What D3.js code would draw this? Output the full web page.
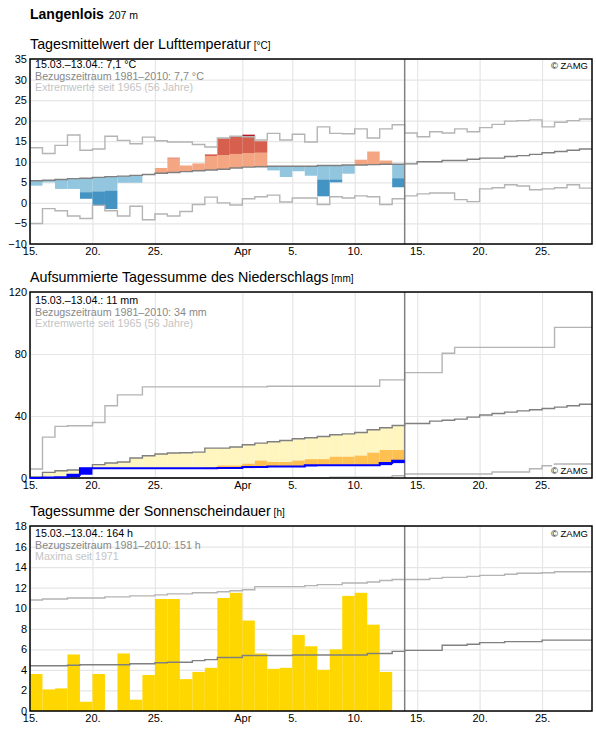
<!DOCTYPE html>
<html>
<head>
<meta charset="utf-8">
<script src="https://cdn.jsdelivr.net/npm/d3@7"></script>
<style>
  body { margin: 0; background: #fff; }
  svg { font-family: "Liberation Sans", Arial, sans-serif; }
</style>
</head>
<body>
<svg id="chart" width="596" height="729"></svg>
<script>
// ---- data (one value per day, starting 15.03.) ----
const station = 'Langenlois'
const altitude = '207 m'
const tickDates = ['2021-03-15', '2021-03-20', '2021-03-25', '2021-04-01', '2021-04-05', '2021-04-10', '2021-04-15', '2021-04-20', '2021-04-25']
const tickLabels = ['15.', '20.', '25.', 'Apr', '5.', '10.', '15.', '20.', '25.']

const tempTicks = [-10, -5, 0, 5, 10, 15, 20, 25, 30, 35]
const tempObs = [4.2, 5.0, 3.4, 3.4, 1.0, -0.5, -1.5, 4.9, 4.9, 7.0, 8.5, 11.0, 9.1, 9.6, 11.8, 15.7, 16.1, 16.6, 15.0, 7.9,
  6.3, 7.7, 6.6, 1.6, 5.0, 7.1, 10.5, 12.5, 10.3, 3.8]
const tempMean = [5.4, 5.5, 5.7, 5.9, 6.0, 6.2, 6.4, 6.5, 6.7, 6.9, 7.2, 7.4, 7.6, 7.8, 8.0, 8.2, 8.5, 8.7, 8.8, 8.9,
  8.9, 8.9, 8.9, 9.1, 9.1, 9.2, 9.2, 9.3, 9.4, 9.4, 9.5, 10.0, 10.0, 10.3, 10.3, 10.6, 10.9, 10.9, 11.3, 11.5,
  11.8, 12.2, 12.5, 12.8, 13.1]
const tempUpper = [13.4, 12.0, 14.0, 16.5, 12.8, 13.1, 16.2, 15.2, 14.4, 16.0, 15.1, 14.8, 14.8, 14.2, 13.6, 15.8, 16.2, 16.1, 15.3, 16.9,
  15.3, 16.7, 14.8, 18.5, 16.9, 16.8, 18.0, 15.8, 18.0, 19.0, 17.0, 16.1, 17.3, 17.0, 18.0, 17.3, 18.3, 19.1, 19.9, 20.0,
  20.2, 18.5, 19.6, 20.0, 20.4]
const tempLower = [-5.0, -1.4, -1.9, -3.2, -3.8, -0.6, -1.9, -3.2, -0.8, -4.1, -2.7, -3.2, -2.1, -0.4, 1.4, 0.0, -0.5, 1.0, 1.5, 1.9,
  0.2, 1.2, 1.2, -0.4, 1.5, 1.2, 1.7, 1.5, -0.4, 1.0, 1.7, 2.2, 2.4, 2.4, 0.8, 0.3, 3.4, 3.7, 4.4, 4.1,
  3.2, 3.4, 3.7, 4.4, 3.6]

const precipTicks = [0, 40, 80, 120]
const precipObs = [0, 0.3, 0.5, 2.1, 6.3, 6.3, 6.3, 6.3, 6.3, 6.3, 6.3, 6.3, 6.3, 6.3, 6.3, 6.4, 6.4, 7.1, 7.1, 7.5,
  7.5, 7.5, 8.3, 8.3, 8.3, 8.3, 8.3, 8.3, 9.6, 11.2]
const precipBand = [0, 0, 0, 0, 0, 3.0, 3.5, 4.0, 4.5, 5.0, 5.3, 5.6, 5.8, 6.0, 7.0, 8.2, 8.2, 9.4, 11.4, 10.5,
  10.5, 11.4, 12.2, 12.2, 13.9, 13.9, 14.6, 16.5, 18.2, 18.2]
const precipMean = [0.6, 3.6, 4.7, 5.2, 6.2, 8.6, 9.7, 10.3, 12.9, 14.4, 15.5, 16.1, 16.3, 16.7, 19.3, 19.3, 20.0, 21.5, 22.5, 23.4,
  24.2, 25.3, 26.0, 26.8, 27.9, 28.5, 29.4, 31.1, 32.4, 33.9, 35.2, 35.2, 36.7, 37.3, 38.0, 39.3, 40.6, 41.6, 42.5, 43.3,
  44.0, 44.8, 45.7, 46.6, 47.6]
const precipUpper = [5.8, 26.4, 33.3, 33.7, 33.7, 35.8, 46.6, 53.6, 53.6, 58.8, 58.8, 58.8, 58.8, 58.8, 58.8, 58.8, 58.8, 58.8, 58.8, 59.2,
  59.2, 59.2, 59.2, 59.2, 59.2, 59.2, 59.2, 59.2, 63.3, 63.3, 68.0, 68.0, 68.0, 80.5, 84.3, 84.3, 84.3, 84.3, 84.3, 84.3,
  84.3, 84.3, 97.2, 97.2, 97.2]
const precipLower = [0, 0, 0, 0, 0, 0, 0, 0, 0, 0, 0, 0, 0, 0, 0, 0, 0, 0, 0, 0,
  0, 0, 0, 0, 0.5, 0.5, 0.5, 0.5, 0.5, 1.5, 2.6, 2.6, 2.6, 2.6, 2.6, 2.6, 2.6, 3.9, 3.9, 3.9,
  6.0, 7.9, 9.0, 9.0, 9.0]

const sunTicks = [0, 2, 4, 6, 8, 10, 12, 14, 16, 18]
const sunObs = [3.6, 2.1, 2.2, 5.5, 0.9, 3.6, 0, 5.6, 1.1, 3.5, 10.9, 10.9, 3.1, 3.8, 4.2, 11.0, 11.5, 8.8, 5.6, 4.1,
  4.2, 7.4, 6.3, 4.0, 6.0, 11.2, 11.5, 8.4, 3.8, 0]
const sunMean = [4.4, 4.4, 4.4, 4.45, 4.5, 4.5, 4.5, 4.5, 4.6, 4.6, 4.7, 4.75, 4.75, 4.9, 5.0, 5.2, 5.2, 5.4, 5.4, 5.4,
  5.4, 5.45, 5.45, 5.45, 5.45, 5.45, 5.45, 5.6, 5.6, 5.8, 5.9, 5.9, 5.9, 6.4, 6.4, 6.5, 6.65, 6.65, 6.75, 6.75,
  6.75, 6.9, 6.9, 6.9, 6.9]
const sunMax = [10.8, 10.9, 10.9, 11.0, 11.0, 11.0, 11.1, 11.1, 11.2, 11.2, 11.3, 11.4, 11.4, 11.5, 11.5, 11.6, 11.7, 11.8, 12.1, 12.1,
  12.1, 12.1, 12.2, 12.3, 12.3, 12.45, 12.45, 12.55, 12.7, 12.8, 12.8, 12.8, 12.9, 13.0, 13.0, 13.1, 13.2, 13.2, 13.3, 13.4,
  13.4, 13.45, 13.55, 13.55, 13.55]

// ---- layout ----
const left = 30
const right = 592
const anomalyBand = 3.4
const warmColors = ['#f4a582', '#d6604d', '#b2182b']
const coldColors = ['#92c5de', '#4393c3', '#2166ac']

const svg = d3.select('#chart')
const start = new Date(Date.UTC(2021, 2, 15))
const days = d3.range(tempMean.length).map(i => d3.utcDay.offset(start, i))
const today = d3.utcDay.offset(start, precipObs.length)
const x = d3.scaleUtc()
  .domain([start, d3.utcDay.offset(start, tempMean.length)])
  .range([left, right])
const dayWidth = x(days[1]) - x(days[0])

/**
 * Turns daily values into points for a step line (one extra point closes the last day).
 *
 * @param {number[]} values The daily values
 * @returns {Array} The points
 */
function stepPoints (values) {
  const pts = values.map((v, i) => [days[i], v])
  pts.push([d3.utcDay.offset(days[values.length - 1], 1), values[values.length - 1]])
  return pts
}

/**
 * Creates a panel with title, grid, axes and legend texts.
 *
 * @param {object} cfg The panel settings
 * @returns {object} The group and the y scale
 */
function makePanel (cfg) {
  const h = cfg.height
  const g = svg.append('g').attr('transform', 'translate(0,' + cfg.top + ')')
  const y = d3.scaleLinear().domain(cfg.domain).range([h, 0])

  const title = g.append('text').attr('x', left).attr('y', -10)
    .attr('font-size', '14.3px').attr('fill', '#000').text(cfg.title)
  title.append('tspan').attr('font-size', '10px').text(' [' + cfg.unit + ']')

  g.append('g').attr('transform', 'translate(0,' + h + ')')
    .call(d3.axisBottom(x).tickValues(tickDates.map(d => new Date(d))).tickSize(-h).tickFormat(''))
    .call(s => s.select('.domain').remove())
    .call(s => s.selectAll('line').attr('stroke', '#e6e6e6').attr('stroke-width', 1.2))
  g.append('g').attr('transform', 'translate(' + left + ',0)')
    .call(d3.axisLeft(y).tickValues(cfg.ticks).tickSize(-(right - left)).tickFormat(''))
    .call(s => s.select('.domain').remove())
    .call(s => s.selectAll('line').attr('stroke', '#e6e6e6').attr('stroke-width', 1.2))

  g.append('g').attr('transform', 'translate(0,' + h + ')')
    .call(d3.axisBottom(x).tickValues(tickDates.map(d => new Date(d))).tickSize(0).tickPadding(3.5)
      .tickFormat((d, i) => tickLabels[i]))
    .call(s => s.select('.domain').remove())
    .call(s => s.selectAll('text').attr('font-size', '11px').attr('fill', '#000').attr('font-family', null))
  g.append('g').attr('transform', 'translate(' + left + ',0)')
    .call(d3.axisLeft(y).tickValues(cfg.ticks).tickSize(0).tickPadding(3))
    .call(s => s.select('.domain').remove())
    .call(s => s.selectAll('text').attr('font-size', '11px').attr('fill', '#000').attr('font-family', null))

  return { g, y }
}

/**
 * Draws the step lines, the today marker, the frame and the texts on top of a panel.
 *
 * @param {object} p The panel (group and y scale)
 * @param {object} cfg The panel settings
 */
function finishPanel (p, cfg) {
  const { g, y } = p
  const h = cfg.height
  const line = d3.line().x(d => x(d[0])).y(d => y(d[1])).curve(d3.curveStepAfter)
  cfg.lines.forEach(l => {
    g.append('path').attr('d', line(stepPoints(l.values)))
      .attr('fill', 'none').attr('stroke', l.color).attr('stroke-width', 1.4)
  })
  g.append('line').attr('x1', x(today)).attr('x2', x(today)).attr('y1', 0).attr('y2', h)
    .attr('stroke', '#808080').attr('stroke-width', 1.5)
  g.append('rect').attr('x', left).attr('y', 0).attr('width', right - left).attr('height', h)
    .attr('fill', 'none').attr('stroke', '#000').attr('stroke-width', 1.5)

  const legendColors = ['#000', '#888', '#c4c4c4']
  cfg.legend.forEach((t, i) => {
    g.append('text').attr('x', left + 5).attr('y', cfg.legendY + i * 11.3)
      .attr('font-size', '10.7px').attr('fill', legendColors[i]).text(t)
  })

  const zamg = g.append('g')
  zamg.append('rect').attr('x', right - 40).attr('y', cfg.zamgY - 9).attr('width', 38).attr('height', 12).attr('fill', '#fff')
  zamg.append('text').attr('x', right - 4).attr('y', cfg.zamgY).attr('text-anchor', 'end')
    .attr('font-size', '9.5px').attr('fill', '#000').text('© ZAMG')
}

// ---- header ----
const head = svg.append('text').attr('x', left).attr('y', 18.5)
head.append('tspan').attr('font-size', '14px').attr('font-weight', 'bold').text(station)
head.append('tspan').attr('font-size', '10.5px').attr('dx', 2).text(' ' + altitude)

// ---- temperature ----
const tempCfg = {
  top: 59, height: 185, domain: [-10, 35], ticks: tempTicks,
  title: 'Tagesmittelwert der Lufttemperatur', unit: '°C',
  legend: ['15.03.–13.04.: 7,1 °C', 'Bezugszeitraum 1981–2010: 7,7 °C', 'Extremwerte seit 1965 (56 Jahre)'],
  legendY: 9.3, zamgY: 10,
  lines: [{ values: tempUpper, color: '#b4b4b4' }, { values: tempLower, color: '#b4b4b4' }, { values: tempMean, color: '#808080' }]
}
const tp = makePanel(tempCfg)
const tempSegs = []
tempObs.forEach((v, i) => {
  const m = tempMean[i]
  const sign = v >= m ? 1 : -1
  const edge = sign > 0 ? tempUpper[i] : tempLower[i]
  const cols = sign > 0 ? warmColors : coldColors
  const lim = m + sign * anomalyBand
  const clip = (a, b) => sign > 0 ? Math.min(a, b) : Math.max(a, b)
  tempSegs.push({ i, a: m, b: clip(v, lim), c: cols[0] })
  tempSegs.push({ i, a: lim, b: clip(v, edge), c: cols[1] })
  tempSegs.push({ i, a: sign > 0 ? Math.max(edge, lim) : Math.min(edge, lim), b: v, c: cols[2] })
  tempSegs.forEach(s => { s.sign = s.sign || sign })
})
tp.g.append('g').selectAll('rect')
  .data(tempSegs.filter(s => s.sign * (s.b - s.a) > 0))
  .join('rect')
  .attr('x', d => x(days[d.i]))
  .attr('width', dayWidth)
  .attr('y', d => tp.y(Math.max(d.a, d.b)))
  .attr('height', d => Math.abs(tp.y(d.a) - tp.y(d.b)))
  .attr('fill', d => d.c)
finishPanel(tp, tempCfg)

// ---- precipitation ----
const precipCfg = {
  top: 292, height: 186, domain: [0, 120], ticks: precipTicks,
  title: 'Aufsummierte Tagessumme des Niederschlags', unit: 'mm',
  legend: ['15.03.–13.04.: 11 mm', 'Bezugszeitraum 1981–2010: 34 mm', 'Extremwerte seit 1965 (56 Jahre)'],
  legendY: 12.3, zamgY: 182,
  lines: [{ values: precipUpper, color: '#b4b4b4' }, { values: precipLower, color: '#b4b4b4' }, { values: precipMean, color: '#808080' }]
}
const pp = makePanel(precipCfg)
const precipSegs = []
precipObs.forEach((o, i) => {
  const m = precipMean[i]
  const b = precipBand[i]
  if (o < m) {
    if (b > o) precipSegs.push({ i, lo: o, hi: Math.min(b, m), c: '#fec050' })
    precipSegs.push({ i, lo: Math.max(o, b), hi: m, c: '#fff5bf' })
  }
})
pp.g.append('g').selectAll('rect')
  .data(precipSegs.filter(s => s.hi > s.lo))
  .join('rect')
  .attr('x', d => x(days[d.i]))
  .attr('width', dayWidth)
  .attr('y', d => pp.y(d.hi))
  .attr('height', d => pp.y(d.lo) - pp.y(d.hi))
  .attr('fill', d => d.c)
finishPanel(pp, precipCfg)
// daily increments and running total in blue
pp.g.append('g').selectAll('rect')
  .data(precipObs.map((o, i) => ({ i, lo: i > 0 ? precipObs[i - 1] : 0, hi: o })).filter(d => d.hi > d.lo))
  .join('rect')
  .attr('x', d => x(days[d.i]))
  .attr('width', dayWidth)
  .attr('y', d => pp.y(d.hi))
  .attr('height', d => pp.y(d.lo) - pp.y(d.hi))
  .attr('fill', '#0000ff')
pp.g.append('path')
  .attr('d', d3.line().x(d => x(d[0])).y(d => pp.y(d[1])).curve(d3.curveStepAfter)(stepPoints(precipObs)))
  .attr('fill', 'none').attr('stroke', '#0000ff').attr('stroke-width', 2)

// ---- sunshine ----
const sunCfg = {
  top: 526, height: 185, domain: [0, 18], ticks: sunTicks,
  title: 'Tagessumme der Sonnenscheindauer', unit: 'h',
  legend: ['15.03.–13.04.: 164 h', 'Bezugszeitraum 1981–2010: 151 h', 'Maxima seit 1971'],
  legendY: 11.3, zamgY: 11,
  lines: [{ values: sunMax, color: '#b4b4b4' }, { values: sunMean, color: '#808080' }]
}
const sp = makePanel(sunCfg)
sp.g.append('g').selectAll('rect')
  .data(sunObs.map((v, i) => ({ i, v })).filter(d => d.v > 0))
  .join('rect')
  .attr('x', d => x(days[d.i]))
  .attr('width', dayWidth)
  .attr('y', d => sp.y(d.v))
  .attr('height', d => sp.y(0) - sp.y(d.v))
  .attr('fill', '#ffd700')
finishPanel(sp, sunCfg)
</script>
</body>
</html>
